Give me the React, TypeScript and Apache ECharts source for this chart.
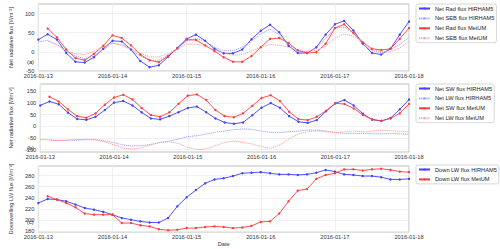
import React, { useEffect, useRef } from 'react';
import * as echarts from 'echarts';

// ---- Data ----
const dateLabels = ['2016-01-13', '2016-01-14', '2016-01-15', '2016-01-16', '2016-01-17', '2016-01-18'];
const stepHours = 3;
const hirhamStartHour = 0;
const metumStartHour = 3;

// Panel (a)
const netRadHIRHAM5 = [
  32, 46, 32, -3, -26, -28, -14, 8,
  29, 27, 6, -24, -40, -35, -13, 10,
  34, 45, 29, 8, -4, -4, 6, 33,
  55, 71, 51, 16, -3, -3, 12, 45,
  72, 81, 56, 22, -3, -7, 8, 45,
  79,
];
const netSEBHIRHAM5 = [
  26, 30, 19, 2, -11, -18, -11, 6,
  23, 19, 6, -11, -22, -22, -9, 10,
  28, 35, 28, 12, 3, 3, 12, 28,
  47, 59, 45, 19, 2, 0, 10, 34,
  62, 65, 49, 19, 4, -2, 6, 19,
  38,
];
const netRadMetUM = [
  61, 38, 6, -16, -22, -5, 16,
  43, 36, 17, -7, -22, -27, -11, 9,
  32, 31, 17, 2, -14, -26, -26, -11,
  12, 34, 36, 23, 4, -3, -1, 21,
  62, 72, 49, 25, 8, 5, 8, 34,
  62,
];
const netSEBMetUM = [
  28, 19, 2, -5, -7, 2, 13,
  23, 17, 6, -4, -13, -13, -5, 8,
  20, 20, 15, 6, -3, -9, -7, 2,
  12, 19, 17, 12, 4, 2, 4, 15,
  36, 47, 41, 28, 7, 0, 0, 10,
  28,
];

// Panel (b)
const netSWHIRHAM5 = [
  90, 107, 95, 59, 32, 28, 41, 70,
  102, 109, 90, 60, 34, 30, 44, 61,
  79, 85, 61, 34, 17, 11, 17, 48,
  80, 100, 80, 44, 20, 15, 27, 65,
  99, 113, 90, 54, 29, 23, 36, 73,
  115,
];
const netLWHIRHAM5 = [
  -56, -58, -61, -60, -59, -57, -56, -62,
  -70, -80, -84, -83, -77, -69, -63, -54,
  -44, -40, -33, -25, -20, -14, -11, -13,
  -20, -26, -26, -23, -20, -16, -16, -20,
  -26, -30, -30, -30, -31, -32, -31, -32,
  -34,
];
const netSWMetUM = [
  127, 107, 73, 44, 37, 56, 93,
  124, 136, 116, 79, 49, 41, 60, 97,
  132, 137, 113, 70, 44, 39, 56, 88,
  122, 134, 109, 63, 31, 27, 41, 67,
  99, 96, 77, 49, 30, 24, 34, 56,
  96,
];
const netLWMetUM = [
  -59, -61, -59, -56, -56, -59, -66,
  -80, -94, -97, -92, -80, -69, -66, -73,
  -90, -100, -97, -83, -69, -63, -69, -76,
  -87, -94, -80, -54, -33, -23, -19, -23,
  -27, -23, -20, -23, -20, -16, -19, -21,
  -23,
];

// Panel (c)
const downLWHIRHAM5 = [
  231, 238, 237, 234, 228, 222, 219, 215,
  210, 204, 201, 198, 196, 196, 204, 225,
  241, 254, 266, 273, 275, 279, 284, 285,
  286, 284, 282, 282, 281, 282, 285, 290,
  287, 282, 281, 279, 279, 277, 273, 273,
  274,
];
const downLWMetUM = [
  243, 237, 231, 223, 212, 210, 210,
  210, 195, 195, 191, 189, 184, 182, 183,
  186, 186, 188, 189, 188, 186, 187, 190,
  197, 198, 212, 234, 253, 256, 274, 281,
  284, 291, 291, 289, 291, 292, 290, 287,
  286,
];

const yTicksA = [-50, 0, 50, 100];
const yTicksB = [-100, -50, 0, 50, 100, 150];
const yTicksC = [180, 200, 220, 240, 260, 280];

const FONT = 'Liberation Sans, Arial, sans-serif';
const FS = 5.7;
const BLUE = '#4040ff';
const LIGHT_BLUE = '#9d9dff';
const RED = '#ff3c3c';
const PINK = '#ff9f9f';

const toXY = (vals: number[], start: number) => vals.map((v, i) => [start + i * stepHours, v]);

export default function App() {
  const ref = useRef<HTMLDivElement>(null);
  useEffect(() => {
    document.body.style.margin = '0';
    const chart = echarts.init(ref.current!, null, { renderer: 'svg' });
    const grids = [
      { left: 25, top: 4, width: 384, height: 67 },
      { left: 25, top: 84, width: 384, height: 68 },
      { left: 25, top: 166, width: 384, height: 66 },
    ].map((g) => ({ ...g, show: true, borderColor: '#bdbdbd', borderWidth: 1, backgroundColor: '#fff' }));

    const xAxis = [0, 1, 2].map((i) => ({
      type: 'value',
      gridIndex: i,
      min: 0,
      max: 120,
      interval: 24,
      axisLine: { show: false },
      axisTick: { show: false },
      splitLine: { show: true, lineStyle: { color: '#ececec', width: 0.8 } },
      axisLabel: {
        fontSize: FS,
        fontFamily: FONT,
        color: '#333',
        margin: 2,
        showMinLabel: true,
        showMaxLabel: true,
        formatter: (v: number) => dateLabels[Math.round(v / 24)] ?? '',
      },
      name: i === 2 ? 'Date' : '',
      nameLocation: 'middle',
      nameGap: 8,
      nameTextStyle: { fontSize: FS, fontFamily: FONT, color: '#333' },
    }));

    const yDefs = [
      { min: -50, max: 125, ticks: yTicksA, name: 'Net radiative flux [Wm⁻²]' },
      { min: -110, max: 182, ticks: yTicksB, name: 'Net radiative flux [Wm⁻²]' },
      { min: 179, max: 297, ticks: yTicksC, name: 'Downwelling LW flux [Wm⁻²]' },
    ];
    const yAxis = yDefs.map((d, i) => ({
      type: 'value',
      gridIndex: i,
      min: d.min,
      max: d.max,
      name: d.name,
      nameLocation: 'middle',
      nameGap: 11,
      nameTextStyle: { fontSize: FS, fontFamily: FONT, color: '#333' },
      axisLine: { show: false },
      axisTick: { show: false, customValues: d.ticks },
      splitLine: { show: true, lineStyle: { color: '#ececec', width: 0.8 } },
      axisLabel: { fontSize: FS, fontFamily: FONT, color: '#333', margin: 4, customValues: d.ticks },
    }));

    const solid = (name: string, data: number[], start: number, color: string, gi: number) => ({
      name,
      type: 'line',
      xAxisIndex: gi,
      yAxisIndex: gi,
      data: toXY(data, start),
      symbol: 'circle',
      symbolSize: 2.4,
      showSymbol: true,
      itemStyle: { color },
      lineStyle: { color, width: 0.9 },
    });
    const dotted = (name: string, data: number[], start: number, color: string, gi: number) => ({
      name,
      type: 'line',
      xAxisIndex: gi,
      yAxisIndex: gi,
      data: toXY(data, start),
      symbol: 'none',
      itemStyle: { color },
      lineStyle: { color, width: 1, type: [1.2, 0.9] },
    });

    const series = [
      solid('Net Rad flux HIRHAM5', netRadHIRHAM5, hirhamStartHour, BLUE, 0),
      dotted('Net SEB flux HIRHAM5', netSEBHIRHAM5, hirhamStartHour, LIGHT_BLUE, 0),
      solid('Net Rad flux MetUM', netRadMetUM, metumStartHour, RED, 0),
      dotted('Net SEB flux MetUM', netSEBMetUM, metumStartHour, PINK, 0),
      solid('Net SW flux HIRHAM5', netSWHIRHAM5, hirhamStartHour, BLUE, 1),
      dotted('Net LW flux HIRHAM5', netLWHIRHAM5, hirhamStartHour, LIGHT_BLUE, 1),
      solid('Net SW flux MetUM', netSWMetUM, metumStartHour, RED, 1),
      dotted('Net LW flux MetUM', netLWMetUM, metumStartHour, PINK, 1),
      solid('Down LW flux HIRHAM5', downLWHIRHAM5, hirhamStartHour, BLUE, 2),
      solid('Down LW flux MetUM', downLWMetUM, metumStartHour, RED, 2),
    ];

    const legendBase = {
      orient: 'vertical',
      left: 416,
      itemWidth: 11,
      itemHeight: 2.6,
      itemGap: 3.9,
      padding: [1.5, 2, 1.5, 2],
      borderColor: '#cccccc',
      borderWidth: 0.8,
      borderRadius: 2,
      backgroundColor: '#fff',
      textStyle: { fontSize: FS, fontFamily: FONT, color: '#222', lineHeight: 5 },
    };
    const legend = [
      { ...legendBase, top: 4, data: series.slice(0, 4).map((s) => s.name) },
      { ...legendBase, top: 84, data: series.slice(4, 8).map((s) => s.name) },
      { ...legendBase, top: 165, data: series.slice(8, 10).map((s) => s.name) },
    ];

    const letter = (t: string, y: number) => ({
      type: 'text',
      left: 27,
      top: y,
      style: { text: t, fontSize: FS, fontFamily: FONT, fill: '#222' },
    });

    chart.setOption({
      animation: false,
      backgroundColor: '#fff',
      grid: grids,
      xAxis,
      yAxis,
      legend,
      series,
      graphic: [letter('(a)', 59), letter('(b)', 145), letter('(c)', 219)],
    });
    return () => chart.dispose();
  }, []);
  return <div ref={ref} style={{ position: 'fixed', left: 0, top: 0, width: 500, height: 249 }} />;
}
